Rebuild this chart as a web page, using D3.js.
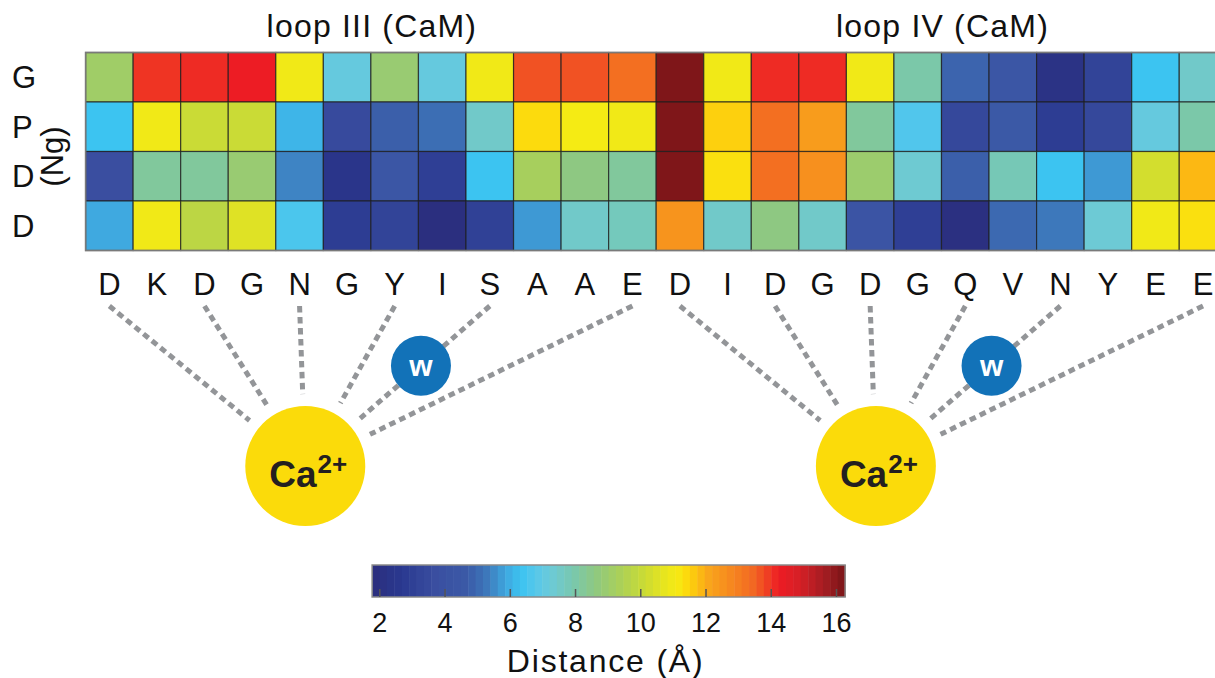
<!DOCTYPE html>
<html>
<head>
<meta charset="utf-8">
<script src="https://cdn.jsdelivr.net/npm/d3@7"></script>
<style>
  body { margin: 0; background: #fff; }
  text { font-family: 'Liberation Sans', Arial, Helvetica, sans-serif; fill: #111; }
</style>
</head>
<body>
<div id="wrapper"></div>
<script>
// Ng residues (rows) and CaM loop III + IV residues (columns)
const rowLabels = ['G', 'P', 'D', 'D']
const residues = ['D', 'K', 'D', 'G', 'N', 'G', 'Y', 'I', 'S', 'A', 'A', 'E',
                  'D', 'I', 'D', 'G', 'D', 'G', 'Q', 'V', 'N', 'Y', 'E', 'E']
const loopTitles = ['loop III (CaM)', 'loop IV (CaM)']

// distances in Angstrom, one array per Ng residue
const distG  = [9.1, 14.0, 14.1, 14.25, 11.0, 7.1, 8.9, 7.1, 11.0, 13.7, 13.7, 13.3,
                16.2, 11.0, 14.1, 14.1, 11.0, 8.0, 4.9, 4.4, 2.2, 3.2, 6.35, 7.5]
const distP  = [6.35, 11.0, 10.1, 10.1, 6.1, 3.5, 4.8, 5.1, 7.5, 11.4, 11.1, 11.0,
                16.2, 11.55, 13.3, 12.3, 8.2, 6.7, 3.4, 4.6, 2.9, 3.4, 7.1, 8.0]
const distD1 = [3.7, 8.2, 8.2, 8.9, 5.45, 2.4, 4.4, 3.0, 6.35, 9.3, 8.6, 8.2,
                16.2, 11.3, 13.3, 12.6, 9.0, 7.35, 4.8, 7.8, 6.35, 5.7, 10.3, 11.85]
const distD2 = [5.9, 11.0, 9.8, 10.55, 6.6, 2.9, 3.2, 1.9, 3.1, 5.7, 7.5, 7.7,
                12.5, 7.5, 8.6, 7.5, 4.2, 3.0, 2.0, 5.0, 5.3, 7.3, 11.0, 11.3]
const distances = [distG, distP, distD1, distD2]

// positions (within a 12-residue loop) that coordinate Ca2+; waterSite goes via w
const coordSites = [0, 2, 4, 6, 8, 11]
const waterSite = 8

// colour bar
const colorTicks = [2, 4, 6, 8, 10, 12, 14, 16]
const colorDomain = [1.78, 16.28]
const stopValues = [1.8, 2.7, 3.7, 4.7, 5.3, 5.9, 6.35, 6.8, 7.25, 7.9, 8.6, 9.35,
                    10.0, 10.7, 11.1, 11.45, 11.8, 12.1, 12.8, 13.5, 14.25, 14.9, 15.6, 16.25]
const stopColors = ['#2b2e7d', '#2a3990', '#3a4ea0', '#3b5aa7', '#3d78bb', '#3fa9e0',
                    '#3cc4f1', '#57c7ea', '#6ccad8', '#78c8b0', '#8ec882', '#a9d05a',
                    '#c5d93a', '#e6e41f', '#f5eb14', '#fdd80c', '#fcbc12', '#f9a51b',
                    '#f6871f', '#f26522', '#ed1c24', '#d51f26', '#a61d23', '#7c1518']

const width = 1215
const height = 678

const color = d3.scaleLinear().domain(stopValues).range(stopColors).clamp(true)

const svg = d3.select('#wrapper')
  .append('svg')
  .attr('width', width)
  .attr('height', height)

// heatmap scales
const x = d3.scaleBand().domain(d3.range(residues.length)).range([85.6, 85.6 + 24 * 47.55])
const y = d3.scaleBand().domain(d3.range(rowLabels.length)).range([52.5, 250.5])
const bw = x.bandwidth()

const cells = []
distances.forEach((row, r) => row.forEach((v, c) => cells.push({ r, c, v })))

svg.append('g')
  .attr('class', 'cells')
  .selectAll('rect')
  .data(cells)
  .join('rect')
  .attr('x', (d) => x(d.c))
  .attr('y', (d) => y(d.r))
  .attr('width', bw)
  .attr('height', y.bandwidth())
  .attr('fill', (d) => color(d.v))
  .attr('stroke', 'rgba(30,30,30,0.75)')
  .attr('stroke-width', 1.2)

// outer frame
svg.append('rect')
  .attr('x', x.range()[0])
  .attr('y', y.range()[0])
  .attr('width', x.range()[1] - x.range()[0])
  .attr('height', y.range()[1] - y.range()[0])
  .attr('fill', 'none')
  .attr('stroke', '#7a7a7a')
  .attr('stroke-width', 1.6)

// row labels
svg.append('g')
  .selectAll('text')
  .data(rowLabels)
  .join('text')
  .attr('x', 12)
  .attr('y', (d, i) => y(i) + y.bandwidth() / 2 + 11)
  .attr('font-size', 31)
  .text((d) => d)

svg.append('text')
  .attr('transform', `translate(63, ${y.range()[0] + 104}) rotate(-90)`)
  .attr('text-anchor', 'middle')
  .attr('font-size', 31)
  .text('(Ng)')

// loop titles
svg.append('g')
  .selectAll('text')
  .data(loopTitles)
  .join('text')
  .attr('x', (d, i) => x(i * 12) + bw * 6 + 1)
  .attr('y', 37)
  .attr('text-anchor', 'middle')
  .attr('font-size', 32)
  .attr('letter-spacing', 1.2)
  .text((d) => d)

// residue letters
svg.append('g')
  .selectAll('text')
  .data(residues)
  .join('text')
  .attr('x', (d, i) => x(i) + bw / 2)
  .attr('y', 295)
  .attr('text-anchor', 'middle')
  .attr('font-size', 31)
  .text((d) => d)

// coordination diagrams
const lineTop = 306
const caY = 466
const caR = 60
const stopDist = 72

loopTitles.forEach((t, L) => {
  const off = L * 12
  const caX = x(off + 4) + bw * 0.62
  const g = svg.append('g').attr('class', 'loop-' + L)

  const segs = coordSites.map((s) => {
    const x0 = x(off + s) + bw / 2
    const dx = caX - x0
    const dy = caY - lineTop
    const len = Math.hypot(dx, dy)
    return { s, x0, y0: lineTop, x1: caX - dx / len * stopDist, y1: caY - dy / len * stopDist, dx, dy }
  })

  g.selectAll('line')
    .data(segs)
    .join('line')
    .attr('x1', (d) => d.x0)
    .attr('y1', (d) => d.y0)
    .attr('x2', (d) => d.x1)
    .attr('y2', (d) => d.y1)
    .attr('stroke', '#939598')
    .attr('stroke-width', 5)
    .attr('stroke-dasharray', '6.5,4.5')

  // water sits on the line of the water-mediated site
  const ws = segs.find((d) => d.s === waterSite)
  const wx = ws.x0 + ws.dx * 0.373
  const wy = ws.y0 + ws.dy * 0.373
  g.append('circle')
    .attr('cx', wx)
    .attr('cy', wy)
    .attr('r', 30)
    .attr('fill', '#1272b8')
  g.append('text')
    .attr('x', wx)
    .attr('y', wy + 10)
    .attr('text-anchor', 'middle')
    .attr('font-size', 30)
    .attr('font-weight', 'bold')
    .style('fill', '#fff')
    .text('w')

  g.append('circle')
    .attr('cx', caX)
    .attr('cy', caY)
    .attr('r', caR)
    .attr('fill', '#fbdb0a')
  const ca = g.append('text')
    .attr('x', caX - 36)
    .attr('y', caY + 21)
    .attr('font-size', 37)
    .attr('font-weight', 'bold')
    .style('fill', '#231f20')
  ca.append('tspan').text('Ca')
  ca.append('tspan')
    .attr('dx', 1)
    .attr('dy', -14)
    .attr('font-size', 26)
    .text('2+')
})

// colour bar
const cb = d3.scaleLinear().domain([2, 16]).range([379.3, 836])
const cbTop = 565
const cbH = 32
const nSteps = 64
const stepW = (colorDomain[1] - colorDomain[0]) / nSteps
const steps = d3.range(nSteps).map((i) => colorDomain[0] + i * stepW)

const cbg = svg.append('g').attr('class', 'colorbar')
cbg.selectAll('rect')
  .data(steps)
  .join('rect')
  .attr('x', (d) => cb(d))
  .attr('y', cbTop)
  .attr('width', (d) => cb(d + stepW) - cb(d) + 0.5)
  .attr('height', cbH)
  .attr('fill', (d) => color(d + stepW / 2))

cbg.append('rect')
  .attr('x', cb(colorDomain[0]))
  .attr('y', cbTop)
  .attr('width', cb(colorDomain[1]) - cb(colorDomain[0]))
  .attr('height', cbH)
  .attr('fill', 'none')
  .attr('stroke', '#8a8a8a')
  .attr('stroke-width', 1.5)

const axis = d3.axisBottom(cb).tickValues(colorTicks).tickSize(-8).tickPadding(16)
const ax = cbg.append('g')
  .attr('transform', `translate(0, ${cbTop + cbH})`)
  .call(axis)
ax.select('.domain').remove()
ax.selectAll('.tick line').attr('stroke', '#555').attr('stroke-width', 1.5)
ax.selectAll('.tick text')
  .attr('font-size', 27)
  .attr('font-family', "'Liberation Sans', Arial, sans-serif")
  .attr('fill', '#111')

svg.append('text')
  .attr('x', cb(9) - 2)
  .attr('y', 672)
  .attr('text-anchor', 'middle')
  .attr('font-size', 32)
  .attr('letter-spacing', 1.8)
  .text('Distance (Å)')
</script>
</body>
</html>
